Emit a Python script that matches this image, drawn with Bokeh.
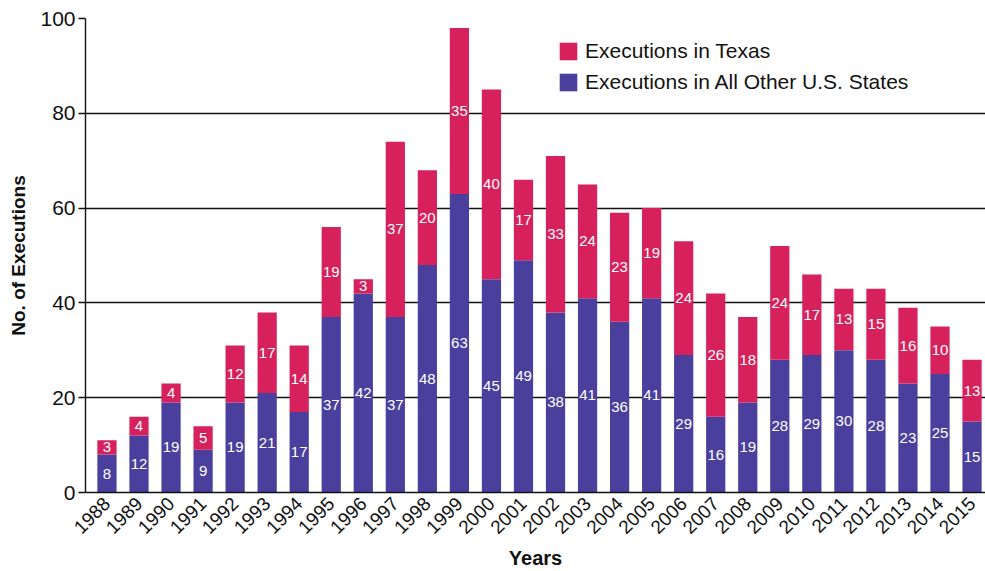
import math
from bokeh.plotting import figure
from bokeh.models import ColumnDataSource, Legend, LegendItem, FixedTicker, Range1d
from bokeh.core.properties import value
from bokeh.embed import file_html
from bokeh.resources import INLINE

# Executions per year, split into Texas and the rest of the country
years = [1988, 1989, 1990, 1991, 1992, 1993, 1994, 1995, 1996, 1997,
         1998, 1999, 2000, 2001, 2002, 2003, 2004, 2005, 2006, 2007,
         2008, 2009, 2010, 2011, 2012, 2013, 2014, 2015]
other_states = [8, 12, 19, 9, 19, 21, 17, 37, 42, 37,
                48, 63, 45, 49, 38, 41, 36, 41, 29, 16,
                19, 28, 29, 30, 28, 23, 25, 15]
texas = [3, 4, 4, 5, 12, 17, 14, 19, 3, 37,
         20, 35, 40, 17, 33, 24, 23, 19, 24, 26,
         18, 24, 17, 13, 15, 16, 10, 13]
y_ticks = [0, 20, 40, 60, 80, 100]

TEXAS_COLOR = "#d6215c"
OTHER_COLOR = "#4a3f9c"
FONT = "Liberation Sans"

totals = [o + t for o, t in zip(other_states, texas)]
src = ColumnDataSource(dict(
    year=years,
    other=other_states,
    texas=texas,
    total=totals,
    other_mid=[o / 2 for o in other_states],
    texas_mid=[o + t / 2 for o, t in zip(other_states, texas)],
    other_lbl=[str(v) for v in other_states],
    texas_lbl=[str(v) for v in texas],
))

p = figure(width=985, height=571, output_backend="svg", toolbar_location=None,
           x_range=Range1d(1987.33, 2015.42), y_range=Range1d(0, 100),
           min_border_left=85, min_border_right=0, min_border_top=18,
           min_border_bottom=78)
p.outline_line_color = None
p.background_fill_color = "white"
p.border_fill_color = "white"

bar_w = 0.6
r_other = p.vbar(x="year", bottom=0, top="other", width=bar_w, source=src,
                 fill_color=OTHER_COLOR, line_color=None)
r_texas = p.vbar(x="year", bottom="other", top="total", width=bar_w, source=src,
                 fill_color=TEXAS_COLOR, line_color=None)

# value labels inside each segment
for ycol, tcol in (("other_mid", "other_lbl"), ("texas_mid", "texas_lbl")):
    p.text(x="year", y=ycol, text=tcol, source=src, text_color="white",
           text_align="center", text_baseline="middle",
           text_font=value(FONT), text_font_size="15px")

# axes
p.xgrid.visible = False
p.ygrid.ticker = FixedTicker(ticks=y_ticks)
p.ygrid.grid_line_color = "#111111"
p.ygrid.grid_line_width = 1.4

p.yaxis.ticker = FixedTicker(ticks=y_ticks)
p.yaxis.axis_label = "No. of Executions"
p.yaxis.axis_label_text_font = FONT
p.yaxis.axis_label_text_font_style = "bold"
p.yaxis.axis_label_text_font_size = "19px"
p.yaxis.axis_label_text_color = "#111111"
p.yaxis.axis_label_standoff = 8
p.yaxis.major_label_text_font = FONT
p.yaxis.major_label_text_font_size = "21px"
p.yaxis.major_label_text_color = "#111111"
p.yaxis.major_tick_out = 7
p.yaxis.major_tick_in = 0
p.yaxis.minor_tick_out = 0
p.yaxis.minor_tick_in = 0
p.yaxis.axis_line_color = "#111111"
p.yaxis.axis_line_width = 1.4
p.yaxis.major_tick_line_color = "#111111"
p.yaxis.major_tick_line_width = 1.4
p.yaxis.major_label_standoff = 3

p.xaxis.ticker = FixedTicker(ticks=years)
p.xaxis.major_label_overrides = {y: str(y) for y in years}
p.xaxis.major_label_orientation = math.pi / 4
p.xaxis.axis_label = "Years"
p.xaxis.axis_label_text_font = FONT
p.xaxis.axis_label_text_font_style = "bold"
p.xaxis.axis_label_text_font_size = "20px"
p.xaxis.axis_label_text_color = "#111111"
p.xaxis.axis_label_standoff = 4
p.xaxis.major_label_text_font = FONT
p.xaxis.major_label_text_font_size = "19px"
p.xaxis.major_label_text_color = "#111111"
p.xaxis.major_tick_out = 0
p.xaxis.major_tick_in = 0
p.xaxis.minor_tick_out = 0
p.xaxis.minor_tick_in = 0
p.xaxis.axis_line_color = "#111111"
p.xaxis.axis_line_width = 1.4
p.xaxis.major_label_standoff = 8

legend = Legend(items=[
    LegendItem(label="Executions in Texas", renderers=[r_texas]),
    LegendItem(label="Executions in All Other U.S. States", renderers=[r_other]),
], location=(472, 398))
legend.border_line_color = None
legend.background_fill_alpha = 0
legend.label_text_font = FONT
legend.label_text_font_size = "21px"
legend.label_text_color = "#111111"
legend.glyph_width = 22
legend.glyph_height = 22
legend.spacing = 7
legend.padding = 10
legend.margin = 0
legend.label_standoff = 6
p.add_layout(legend, "center")

open("out.html", "w").write(file_html(p, INLINE))
